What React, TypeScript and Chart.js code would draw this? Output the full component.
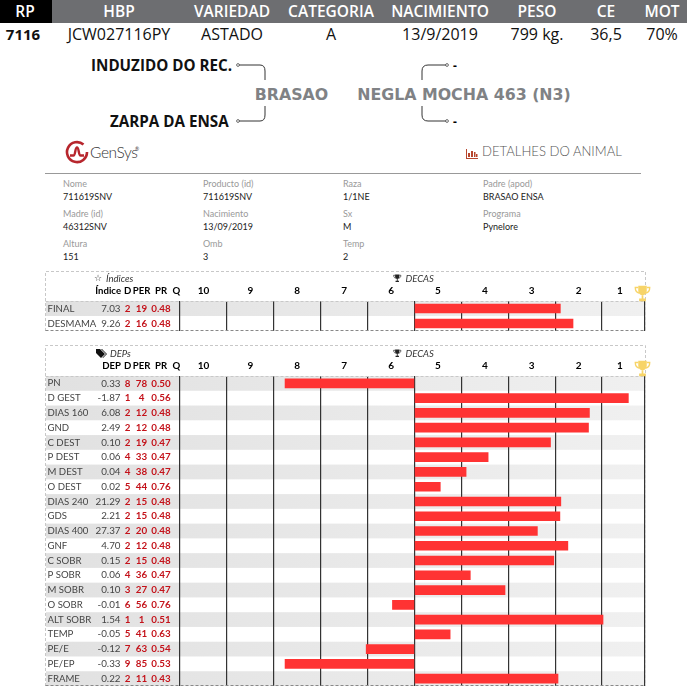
import React, {FC, ReactElement, useEffect, useRef} from 'react';
import {Chart, ChartOptions, Plugin, registerables} from 'chart.js';

Chart.register(...registerables);

// decile columns, in bar units: 0 is the line between deca 6 and deca 5
const decaLabels = ['10', '9', '8', '7', '6', '5', '4', '3', '2', '1'];
const decaLabelPositions = [-4.5, -3.5, -2.5, -1.5, -0.5, 0.5, 1.5, 2.5, 3.5, 4.38];
const decaGridLines = [-5, -4, -3, -2, -1, 0, 1, 2, 3, 4, 4.9];

const indiceRows = ['FINAL', 'DESMAMA'];
const indiceValues = [7.03, 9.26];
const indiceD = [2, 2];
const indicePer = [19, 16];
const indicePr = [0.48, 0.48];
const indiceDeca = [3.11, 3.38];

const depRows = ['PN', 'D GEST', 'DIAS 160', 'GND', 'C DEST', 'P DEST', 'M DEST', 'O DEST', 'DIAS 240', 'GDS', 'DIAS 400',
    'GNF', 'C SOBR', 'P SOBR', 'M SOBR', 'O SOBR', 'ALT SOBR', 'TEMP', 'PE/E', 'PE/EP', 'FRAME'];
const depValues = [0.33, -1.87, 6.08, 2.49, 0.10, 0.06, 0.04, 0.02, 21.29, 2.21, 27.37,
    4.70, 0.15, 0.06, 0.10, -0.01, 1.54, -0.05, -0.12, -0.33, 0.22];
const depD = [8, 1, 2, 2, 2, 4, 4, 5, 2, 2, 2, 2, 2, 4, 3, 6, 1, 5, 7, 9, 2];
const depPer = [78, 4, 12, 12, 19, 33, 38, 44, 15, 15, 20, 12, 15, 36, 27, 56, 1, 41, 63, 85, 11];
const depPr = [0.50, 0.56, 0.48, 0.48, 0.47, 0.47, 0.47, 0.76, 0.48, 0.48, 0.48,
    0.48, 0.48, 0.47, 0.47, 0.76, 0.51, 0.63, 0.54, 0.53, 0.43];
const depDeca = [-2.76, 4.56, 3.73, 3.71, 2.90, 1.57, 1.10, 0.55, 3.12, 3.10, 2.62,
    3.27, 2.97, 1.19, 1.93, -0.47, 4.02, 0.76, -1.03, -2.76, 3.06];

const headerLabels = ['RP', 'HBP', 'VARIEDAD', 'CATEGORIA', 'NACIMIENTO', 'PESO', 'CE', 'MOT'];
const headerValues = ['7116', 'JCW027116PY', 'ASTADO', 'A', '13/9/2019', '799 kg.', '36,5', '70%'];
const headerCenters = [25, 119, 232, 331, 440, 537, 606, 662];

const infoColumns = [63, 203, 343, 483];
const infoRows = [
    [['Nome', '711619SNV'], ['Producto (id)', '711619SNV'], ['Raza', '1/1NE'], ['Padre (apod)', 'BRASAO ENSA']],
    [['Madre (id)', '46312SNV'], ['Nacimiento', '13/09/2019'], ['Sx', 'M'], ['Programa', 'Pynelore']],
    [['Altura', '151'], ['Omb', '3'], ['Temp', '2']],
];

const LATO = 'Lato, sans-serif';
const PAGE = 687;
const CHART_LEFT = 180;
const CHART_RIGHT = 644.3;
const LABEL_LEFT = 47.5;

interface DecaChartProps {
    top: number;
    height: number;
    headHeight: number;
    valueTitle: string;
    rows: string[];
    values: number[];
    d: number[];
    per: number[];
    pr: number[];
    deca: number[];
}

const DecaChart: FC<DecaChartProps> = (props: DecaChartProps): ReactElement => {
    const chartRef = useRef<HTMLCanvasElement>(null);

    useEffect(() => {
        if (!chartRef.current) return;

        // grey stripes run under the value columns too, so they are not a chartArea fill
        const stripes: Plugin<'bar'> = {
            id: 'stripes',
            beforeDraw: (chart) => {
                const {ctx, chartArea, scales} = chart;
                const step = chartArea.height / props.rows.length;
                const fill = ctx.createLinearGradient(46, 0, CHART_RIGHT, 0);
                fill.addColorStop(0, '#e1e1e1');
                fill.addColorStop(1, '#f0f0f0');
                ctx.save();
                ctx.fillStyle = fill;
                props.rows.forEach((_, i) => {
                    if (i % 2 === 0) {
                        ctx.fillRect(46, scales.y.getPixelForValue(i) - step / 2, CHART_RIGHT - 46, step);
                    }
                });
                ctx.restore();
            },
        };

        const tableText: Plugin<'bar'> = {
            id: 'tableText',
            afterDraw: (chart) => {
                const {ctx, chartArea, scales} = chart;
                const write = (text: string, x: number, y: number, align: CanvasTextAlign, color: string, font: string) => {
                    ctx.textAlign = align;
                    ctx.fillStyle = color;
                    ctx.font = font;
                    ctx.fillText(text, x, y);
                };
                ctx.save();
                ctx.textBaseline = 'middle';
                const headY = chartArea.top - 10;
                const headFont = `bold 9.6px ${LATO}`;
                write(props.valueTitle, 121, headY, 'right', '#000', headFont);
                write('D', 127.7, headY, 'center', '#000', headFont);
                write('PER', 141.5, headY, 'center', '#000', headFont);
                write('PR', 161, headY, 'center', '#000', headFont);
                write('Q', 176.3, headY, 'center', '#000', headFont);
                props.rows.forEach((_, i) => {
                    const y = scales.y.getPixelForValue(i);
                    const red = `bold 9.8px ${LATO}`;
                    write(props.values[i].toFixed(2), 120.5, y, 'right', '#444', `9.8px ${LATO}`);
                    write(String(props.d[i]), 127.7, y, 'center', '#c4121a', red);
                    write(String(props.per[i]), 141.5, y, 'center', '#c4121a', red);
                    write(props.pr[i].toFixed(2), 161, y, 'center', '#c4121a', red);
                });

                // dashed frame of the panel
                ctx.lineWidth = 1;
                ctx.setLineDash([3, 2]);
                ctx.strokeStyle = '#c8c8c8';
                ctx.beginPath();
                ctx.moveTo(45.5, chartArea.bottom);
                ctx.lineTo(45.5, 0.5);
                ctx.lineTo(645.5, 0.5);
                ctx.lineTo(645.5, chartArea.bottom);
                ctx.moveTo(45.5, Math.round(chartArea.top) + 0.5);
                ctx.lineTo(645.5, Math.round(chartArea.top) + 0.5);
                ctx.stroke();
                ctx.strokeStyle = '#888';
                ctx.beginPath();
                ctx.moveTo(45.5, chartArea.bottom - 0.5);
                ctx.lineTo(645.5, chartArea.bottom - 0.5);
                ctx.stroke();
                ctx.restore();
            },
        };

        const options: ChartOptions<'bar'> = {
            indexAxis: 'y',
            responsive: false,
            animation: false,
            layout: {padding: {left: LABEL_LEFT, right: PAGE - CHART_RIGHT, top: 0, bottom: 0}},
            plugins: {legend: {display: false}, tooltip: {enabled: false}, title: {display: false}},
            scales: {
                x: {
                    type: 'linear',
                    position: 'top',
                    min: -5,
                    max: 4.9,
                    border: {display: false},
                    grid: {color: '#333', lineWidth: 1.2, drawTicks: false},
                    ticks: {display: false},
                    afterBuildTicks: (scale) => {
                        scale.ticks = decaGridLines.map((value) => ({value}));
                    },
                },
                x2: {
                    type: 'linear',
                    position: 'top',
                    min: -5,
                    max: 4.9,
                    border: {display: false},
                    grid: {display: false, drawTicks: false},
                    ticks: {
                        autoSkip: false,
                        maxRotation: 0,
                        padding: 4,
                        color: '#000',
                        font: {family: LATO, size: 10, weight: 'bold'},
                        callback: (_value, index) => decaLabels[index],
                    },
                    afterBuildTicks: (scale) => {
                        scale.ticks = decaLabelPositions.map((value) => ({value}));
                    },
                    afterFit: (scale) => {
                        scale.height = props.headHeight;
                    },
                },
                y: {
                    type: 'category',
                    border: {display: false},
                    grid: {display: false, drawTicks: false},
                    ticks: {
                        autoSkip: false,
                        crossAlign: 'far',
                        padding: 0,
                        color: '#444',
                        font: {family: LATO, size: 9.6},
                    },
                    afterFit: (scale) => {
                        scale.width = CHART_LEFT - LABEL_LEFT;
                        // half-label margins would otherwise shrink the rows
                        scale.paddingTop = 0;
                        scale.paddingBottom = 0;
                    },
                },
            },
        };

        const chart = new Chart(chartRef.current, {
            type: 'bar',
            data: {
                labels: props.rows,
                datasets: [{data: props.deca, backgroundColor: '#ff3333', barThickness: 9, xAxisID: 'x', yAxisID: 'y'}],
            },
            options,
            plugins: [stripes, tableText],
        });

        return () => {
            chart.destroy();
        };
    }, [props]);

    return <canvas ref={chartRef} width={PAGE} height={props.height}
                   style={{position: 'absolute', left: 0, top: props.top, display: 'block'}}/>;
};

const abs = (left: number, top: number, style: React.CSSProperties = {}): React.CSSProperties => ({
    position: 'absolute', left, top, whiteSpace: 'nowrap', ...style,
});

const centered = (x: number, y: number, style: React.CSSProperties): React.CSSProperties =>
    abs(x, y, {transform: 'translate(-50%, -50%)', ...style});

const Trophy: FC<{left: number; top: number; size: number; color: string}> = ({left, top, size, color}) => (
    <svg width={size} height={size} viewBox="0 0 20 20" style={{position: 'absolute', left, top}}>
        <path d="M5 1h10v6a5 5 0 0 1-10 0z" fill={color}/>
        <path d="M5 3H1.5c0 4 1.5 6 4.5 6.5M15 3h3.5c0 4-1.5 6-4.5 6.5" fill="none" stroke={color} strokeWidth="1.6"/>
        <path d="M9 12h2v4h3v3H6v-3h3z" fill={color}/>
    </svg>
);

const PanelTitles: FC<{top: number; title: string; titleLeft: number; icon: ReactElement}> = ({top, title, titleLeft, icon}) => (
    <>
        {icon}
        <span style={centered(titleLeft, top, {font: `italic 9.5px ${LATO}`, color: '#333', transform: 'translateY(-50%)'})}>{title}</span>
        <Trophy left={393} top={top - 4} size={8.5} color="#222"/>
        <span style={centered(405.5, top, {font: `italic 9.5px ${LATO}`, color: '#333', transform: 'translateY(-50%)'})}>DECAS</span>
        <Trophy left={634} top={top + 7} size={17} color="#f7d468"/>
    </>
);

const Connector: FC<{d: string; dot: [number, number]}> = ({d, dot}) => (
    <>
        <path d={d} fill="none" stroke="#333" strokeWidth="1"/>
        <circle cx={dot[0]} cy={dot[1]} r="1.4" fill="#fff" stroke="#333" strokeWidth="0.7"/>
    </>
);

const pedigreeFont = 'bold 15.2px "Open Sans", sans-serif';
const greyName: React.CSSProperties = {font: 'bold 15.8px "DejaVu Sans", sans-serif', color: '#808285'};
const valueFont = '16px "Open Sans", sans-serif';

export default function App(): ReactElement {
    return (
        <div style={{position: 'absolute', left: 0, top: 0, width: PAGE, height: PAGE, overflow: 'hidden', background: '#fff'}}>
            <div style={abs(0, 0, {width: 52, height: 23, background: '#000'})}/>
            <div style={abs(52, 0, {width: PAGE - 52, height: 23, background: '#6d6e71'})}/>
            {headerLabels.map((label, i) => (
                <span key={label} style={centered(headerCenters[i], 11, {
                    font: '600 15.5px "Open Sans", sans-serif', color: '#fff',
                })}>{label}</span>
            ))}
            {headerValues.map((value, i) => (
                <span key={value} style={centered(headerCenters[i] - (i === 0 ? 2 : 0), 34, {
                    font: i === 0 ? 'bold 15px "Open Sans", sans-serif' : valueFont, color: '#111',
                })}>{value}</span>
            ))}

            <span style={abs(91, 65, {font: pedigreeFont, color: '#111', transform: 'translateY(-50%)'})}>INDUZIDO DO REC.</span>
            <span style={abs(110, 121, {font: pedigreeFont, color: '#111', transform: 'translateY(-50%)'})}>ZARPA DA ENSA</span>
            <span style={centered(291.5, 93.5, greyName)}>BRASAO</span>
            <span style={centered(464, 93.5, greyName)}>NEGLA MOCHA 463 (N3)</span>
            <span style={abs(453, 65, {font: 'bold 12px "Open Sans", sans-serif', transform: 'translateY(-50%)'})}>-</span>
            <span style={abs(453, 121, {font: 'bold 12px "Open Sans", sans-serif', transform: 'translateY(-50%)'})}>-</span>
            <svg width={PAGE} height="135" style={{position: 'absolute', left: 0, top: 0}}>
                <Connector d="M239 65H260Q265 65 265 71V80" dot={[238, 65]}/>
                <Connector d="M239 121H260Q265 121 265 115V106" dot={[238, 121]}/>
                <Connector d="M446 65H428Q422 65 422 71V80" dot={[447, 65]}/>
                <Connector d="M446 121H428Q422 121 422 115V106" dot={[447, 121]}/>
            </svg>

            <svg width="24" height="24" viewBox="0 0 24 24" style={{position: 'absolute', left: 65, top: 140}}>
                <path d="M18.5 4.5A10 10 0 1 0 22 12" fill="none" stroke="#b7262d" strokeWidth="2.6"/>
                <path d="M5 15.5h3.5c2 0 1.5-8 3.5-8s1.500 8 3.500 8H19" fill="none" stroke="#b7262d" strokeWidth="2.4"/>
            </svg>
            <span style={abs(90, 152, {font: `300 15.5px ${LATO}`, color: '#333', transform: 'translateY(-50%)', letterSpacing: -0.4})}>GenSys</span>
            <span style={abs(135, 146, {font: `5px ${LATO}`, color: '#333'})}>®</span>
            <svg width="12" height="10" viewBox="0 0 12 10" style={{position: 'absolute', left: 466, top: 149}}>
                <path d="M0 0V10H12V9H1V0zM2 4h2v4H2zM5 2h2v6H5zM8 3h1.500v5H8zM10 5h1.500v3H10z" fill="#b7462d"/>
            </svg>
            <span style={abs(482, 151, {font: `300 13.1px ${LATO}`, color: '#555', transform: 'translateY(-50%)'})}>DETALHES DO ANIMAL</span>
            <div style={abs(45, 173, {width: 596, height: 1, background: '#999'})}/>

            {infoRows.map((row, r) => row.map(([label, value], c) => (
                <React.Fragment key={label}>
                    <span style={abs(infoColumns[c], 182.5 + r * 30, {font: `9px ${LATO}`, color: '#999', transform: 'translateY(-50%)'})}>{label}</span>
                    <span style={abs(infoColumns[c], 195.5 + r * 30, {font: `9px ${LATO}`, color: '#222', transform: 'translateY(-50%)'})}>{value}</span>
                </React.Fragment>
            )))}

            <DecaChart top={271} height={60} headHeight={30} valueTitle="Índice" rows={indiceRows} values={indiceValues}
                       d={indiceD} per={indicePer} pr={indicePr} deca={indiceDeca}/>
            <DecaChart top={345} height={341} headHeight={31} valueTitle="DEP" rows={depRows} values={depValues}
                       d={depD} per={depPer} pr={depPr} deca={depDeca}/>

            <PanelTitles top={278} title="Índices" titleLeft={106} icon={
                <span style={centered(98, 278, {font: '9px "DejaVu Sans"', color: '#333'})}>☆</span>
            }/>
            <PanelTitles top={353} title="DEPs" titleLeft={110} icon={
                <svg width="11" height="9" viewBox="0 0 11 9" style={{position: 'absolute', left: 96, top: 349}}>
                    <path d="M0 0H4L9 5 5 9 0 4zM5 0H6L11 5 7 9 6.500 8.500 10 5z" fill="#111"/>
                </svg>
            }/>
        </div>
    );
}
